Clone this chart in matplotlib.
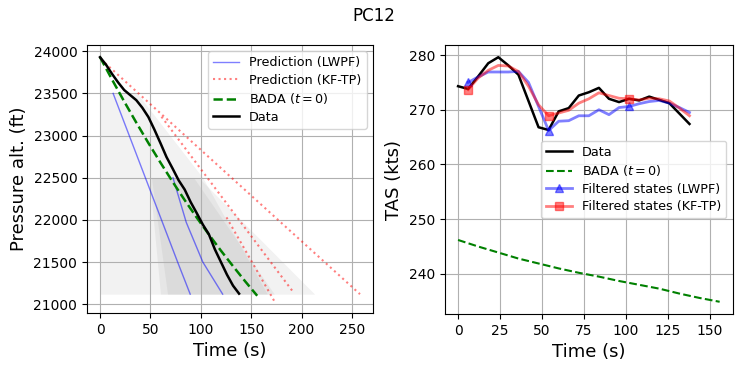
import matplotlib
matplotlib.use("Agg")
import matplotlib.pyplot as plt

# ---------------- data: left panel (altitude vs time) ----------------
data_t = [0, 6, 12, 18, 24, 30, 36, 42, 48, 54, 60, 66, 72, 78, 84, 90, 96,
          102, 108, 114, 120, 126, 132, 138]
data_alt = [23930, 23840, 23730, 23630, 23540, 23480, 23420, 23330, 23220,
            23070, 22910, 22745, 22610, 22470, 22360, 22210, 22080, 21945,
            21830, 21650, 21500, 21350, 21220, 21125]

bada_t = [0, 12, 24, 36, 48, 60, 72, 84, 96, 108, 120, 132, 144, 156]
bada_alt = [23930, 23663, 23404, 23154, 22912, 22679, 22453, 22235, 22027,
            21827, 21635, 21451, 21272, 21100]

lwpf1_t = [13, 45, 77, 89.5]
lwpf1_alt = [23500, 22500, 21500, 21119]
lwpf2_t = [72.4, 85.6, 102, 121.7]
lwpf2_alt = [22500, 21970, 21500, 21119]

kf1_t = [5, 258]
kf1_alt = [23860, 21119]
kf2_t = [61, 190.8]
kf2_alt = [23224, 21159]
kf3_t = [125.5, 172.8]
kf3_alt = [22030, 21040]

# uncertainty bands (altitude levels, lower / upper time)
band1_alt = [23500, 22500, 21119]
band1_lo = [0, 0, 0]
band1_hi = [37, 102, 166]
band2_alt = [22500, 21119]
band2_lo = [49, 60]
band2_hi = [98, 213]
band3_alt = [22500, 21119]
band3_lo = [51, 67]
band3_hi = [93, 173]

# ---------------- data: right panel (TAS vs time) ----------------
tas_t = data_t
tas = [274.3, 273.8, 276.1, 278.5, 279.6, 278.1, 276.4, 271.6, 266.8, 266.3,
       269.7, 270.3, 272.6, 273.2, 274.0, 272.0, 271.4, 272.0, 271.7, 272.4,
       271.8, 271.2, 269.3, 267.4]

bada_tas = [246.2, 245.0, 243.9, 242.8, 241.9, 241.0, 240.2, 239.5, 238.7,
            238.0, 237.3, 236.4, 235.6, 234.9]

filt_t = [6, 12, 18, 24, 30, 36, 42, 48, 54, 60, 66, 72, 78, 84, 90, 96, 102,
          108, 114, 120, 126, 132, 138]
filt_lwpf = [275.0, 276.0, 276.9, 276.9, 276.9, 277.0, 275.0, 270.6, 266.2,
             267.9, 268.0, 268.9, 268.9, 270.0, 269.1, 270.4, 270.6, 271.1,
             271.5, 271.7, 271.2, 270.4, 269.5]
filt_kftp = [273.7, 275.8, 277.2, 278.1, 278.0, 277.0, 274.3, 270.9, 268.9,
             269.4, 269.9, 271.2, 272.0, 273.1, 272.6, 272.1, 272.0, 271.8,
             272.1, 272.0, 271.6, 270.3, 268.9]
marker_idx = [0, 8, 16]

# ---------------- figure ----------------
fig = plt.figure(figsize=(7.47, 3.74), dpi=100)
ax1 = fig.add_axes([0.1165, 0.1631, 0.3828, 0.7166])
ax2 = fig.add_axes([0.5957, 0.1604, 0.3852, 0.7193])

for alt, lo, hi in [(band1_alt, band1_lo, band1_hi),
                    (band2_alt, band2_lo, band2_hi),
                    (band3_alt, band3_lo, band3_hi)]:
    ax1.fill_betweenx(alt, lo, hi, color='grey', alpha=0.1, lw=0)

ax1.plot(lwpf1_t, lwpf1_alt, color='blue', alpha=0.5, lw=1,
         label='Prediction (LWPF)')
ax1.plot(lwpf2_t, lwpf2_alt, color='blue', alpha=0.5, lw=1)
ax1.plot(kf1_t, kf1_alt, color='red', alpha=0.5, lw=1.5, ls=':',
         label='Prediction (KF-TP)')
ax1.plot(kf2_t, kf2_alt, color='red', alpha=0.5, lw=1.5, ls=':')
ax1.plot(kf3_t, kf3_alt, color='red', alpha=0.5, lw=1.5, ls=':')
ax1.plot(bada_t, bada_alt, color='green', ls='--', lw=1.8,
         label='BADA ($t=0$)')
ax1.plot(data_t, data_alt, color='black', lw=1.8, label='Data')
ax1.grid(True)
ax1.set_xlabel('Time (s)', fontsize=13)
ax1.set_ylabel('Pressure alt. (ft)', fontsize=13)
ax1.set_xticks([0, 50, 100, 150, 200, 250])
ax1.set_yticks([21000, 21500, 22000, 22500, 23000, 23500, 24000])
ax1.legend(loc='upper right', fontsize=9.2, labelspacing=0.35)

ax2.plot(tas_t, tas, color='black', lw=1.8, label='Data')
ax2.plot(bada_t, bada_tas, color='green', ls='--', lw=1.5,
         label='BADA ($t=0$)')
ax2.plot(filt_t, filt_lwpf, color='blue', alpha=0.5, lw=2, marker='^',
         markevery=marker_idx, label='Filtered states (LWPF)')
ax2.plot(filt_t, filt_kftp, color='red', alpha=0.5, lw=2, marker='s',
         markevery=marker_idx, label='Filtered states (KF-TP)')
ax2.grid(True)
ax2.set_xlabel('Time (s)', fontsize=13)
ax2.set_ylabel('TAS (kts)', fontsize=13)
ax2.set_xticks([0, 25, 50, 75, 100, 125, 150])
ax2.set_yticks([240, 250, 260, 270, 280])
ax2.legend(loc='center right', fontsize=9.2, labelspacing=0.35)

fig.suptitle('PC12', fontsize=12)
fig.savefig('out.png', dpi=100)
